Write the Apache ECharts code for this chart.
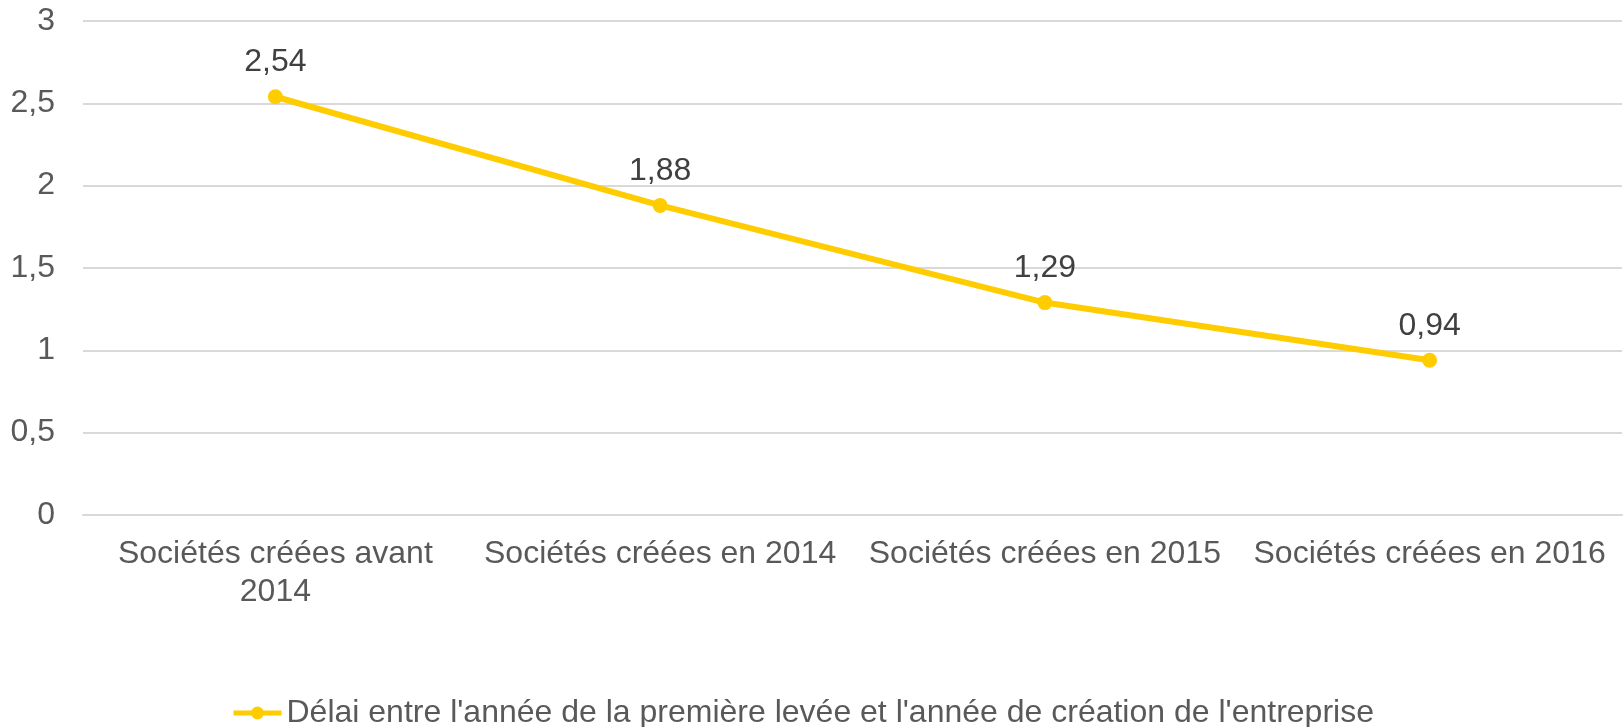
<!DOCTYPE html>
<html>
<head>
<meta charset="utf-8">
<script src="https://cdn.jsdelivr.net/npm/echarts@6/dist/echarts.min.js"></script>
<style>
  html, body { margin: 0; padding: 0; background: #fff; }
  #chart { width: 1623px; height: 727px; }
</style>
</head>
<body>
<div id="chart"></div>
<script>
var categories = [
  "Sociétés créées avant 2014",
  "Sociétés créées en 2014",
  "Sociétés créées en 2015",
  "Sociétés créées en 2016"
];
var delais = [2.54, 1.88, 1.29, 0.94];
var seriesName = "Délai entre l'année de la première levée et l'année de création de l'entreprise";

var fmt = function (v) { return String(v).replace(".", ","); };

// wrap the last word onto a second line when the label is too long for its band
var wrapLabel = function (s) {
  if (s.length <= 24) return s;
  var i = s.lastIndexOf(" ");
  return s.slice(0, i) + "\n" + s.slice(i + 1);
};

var myChart = echarts.init(document.getElementById("chart"));
var option = {
  animation: false,
  textStyle: { fontFamily: "Liberation Sans, Arial, sans-serif" },
  grid: { left: 83, right: 1, top: 21, bottom: 212, containLabel: false },
  legend: {
    left: 226,
    top: 692,
    itemWidth: 48,
    itemHeight: 16,
    lineStyle: { width: 5 },
    textStyle: { fontSize: 32, color: "#595959" },
    data: [seriesName]
  },
  xAxis: {
    type: "category",
    data: categories,
    boundaryGap: true,
    axisLine: { show: true, lineStyle: { color: "#d9d9d9", width: 2 } },
    axisTick: { show: false },
    axisLabel: {
      fontSize: 32,
      color: "#595959",
      margin: 20,
      lineHeight: 38,
      interval: 0,
      formatter: wrapLabel
    }
  },
  yAxis: {
    type: "value",
    min: 0,
    max: 3,
    interval: 0.5,
    axisLine: { show: false },
    axisTick: { show: false },
    splitLine: { lineStyle: { color: "#d9d9d9", width: 2 } },
    axisLabel: {
      fontSize: 32,
      color: "#595959",
      margin: 28,
      formatter: fmt
    }
  },
  series: [
    {
      name: seriesName,
      type: "line",
      data: delais,
      symbol: "circle",
      symbolSize: 15,
      lineStyle: { color: "#FFCC00", width: 6 },
      itemStyle: { color: "#FFCC00" },
      label: {
        show: true,
        position: "top",
        distance: 11,
        fontSize: 32,
        color: "#404040",
        formatter: function (p) { return fmt(p.value); }
      }
    }
  ]
};
myChart.setOption(option);
</script>
</body>
</html>
